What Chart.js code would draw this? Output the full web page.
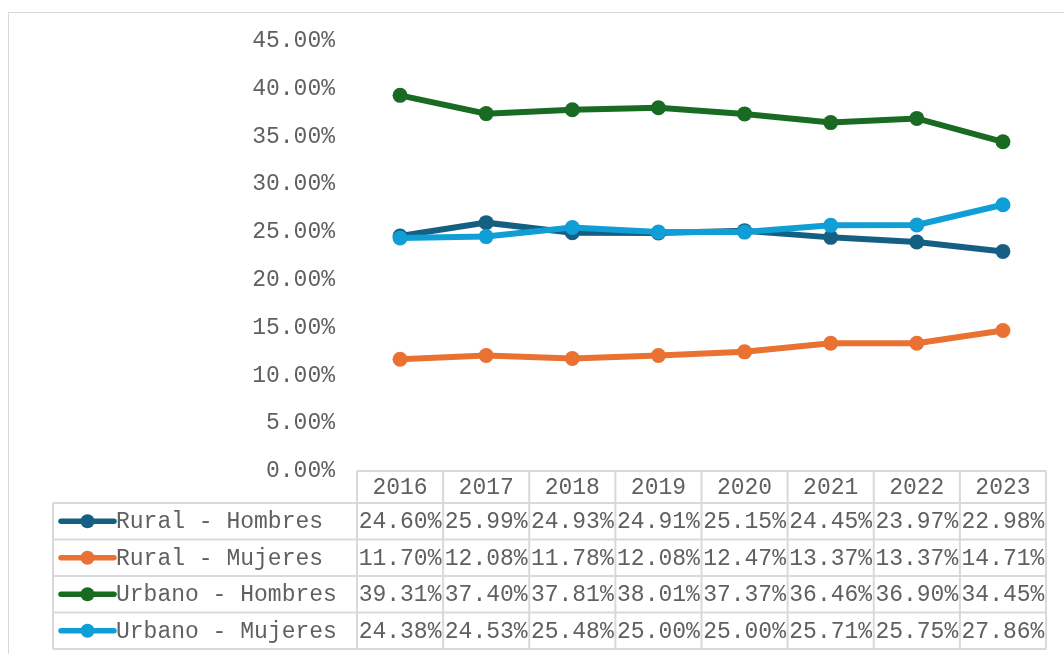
<!DOCTYPE html>
<html>
<head>
<meta charset="utf-8">
<script src="https://cdn.jsdelivr.net/npm/chart.js@4/dist/chart.umd.min.js"></script>
<style>
  html, body { margin: 0; padding: 0; background: #fff; }
  #wrap { width: 1064px; height: 654px; position: relative; }
</style>
</head>
<body>
<div id="wrap"><canvas id="chart" width="1064" height="654"></canvas></div>
<script>
// Datos (porcentajes)
const years = ['2016', '2017', '2018', '2019', '2020', '2021', '2022', '2023'];
const seriesNames = ['Rural - Hombres', 'Rural - Mujeres', 'Urbano - Hombres', 'Urbano - Mujeres'];
const ruralHombres = [24.60, 25.99, 24.93, 24.91, 25.15, 24.45, 23.97, 22.98];
const ruralMujeres = [11.70, 12.08, 11.78, 12.08, 12.47, 13.37, 13.37, 14.71];
const urbanoHombres = [39.31, 37.40, 37.81, 38.01, 37.37, 36.46, 36.90, 34.45];
const urbanoMujeres = [24.38, 24.53, 25.48, 25.00, 25.00, 25.71, 25.75, 27.86];
const yTicks = [0, 5, 10, 15, 20, 25, 30, 35, 40, 45];

const colors = ['#156082', '#E97132', '#196B24', '#0F9ED5'];
const allSeries = [ruralHombres, ruralMujeres, urbanoHombres, urbanoMujeres];
const FAMILY = '"Liberation Mono", "Courier New", monospace';
const FONT = '23px ' + FAMILY;
const TEXT = '#606060';
const GRID = '#d9d9d9';

const fmt = (v) => v.toFixed(2) + '%';

// tabla de datos bajo el gráfico (estilo Excel)
const dataTable = {
  id: 'dataTable',
  afterDraw(chart) {
    const ctx = chart.ctx;
    const area = chart.chartArea;
    const x = chart.scales.x;
    const step = area.width / years.length;
    const tableLeft = 53;
    const headTop = area.bottom;
    const headH = 32;
    const rowH = 36.5;
    const rowsTop = headTop + headH;
    const bottom = rowsTop + rowH * allSeries.length;

    ctx.save();
    // marco exterior
    ctx.strokeStyle = GRID;
    ctx.lineWidth = 1;
    ctx.strokeRect(8.5, 12.5, 1200, 800);

    ctx.lineWidth = 2;
    ctx.beginPath();
    ctx.moveTo(area.left, headTop);
    ctx.lineTo(area.right, headTop);
    for (let r = 0; r <= allSeries.length; r++) {
      const y = rowsTop + r * rowH;
      ctx.moveTo(tableLeft, y);
      ctx.lineTo(area.right, y);
    }
    ctx.moveTo(tableLeft, rowsTop);
    ctx.lineTo(tableLeft, bottom);
    for (let c = 0; c <= years.length; c++) {
      const cx = area.left + c * step;
      ctx.moveTo(cx, headTop);
      ctx.lineTo(cx, bottom);
    }
    ctx.stroke();

    ctx.font = FONT;
    ctx.fillStyle = TEXT;
    ctx.textBaseline = 'middle';
    ctx.textAlign = 'center';
    years.forEach((yr, i) => {
      ctx.fillText(yr, x.getPixelForValue(i), headTop + headH / 2 + 1);
    });

    allSeries.forEach((vals, r) => {
      const cy = rowsTop + r * rowH + rowH / 2 + 1;
      // clave de leyenda
      ctx.strokeStyle = colors[r];
      ctx.lineWidth = 5.5;
      ctx.lineCap = 'round';
      ctx.beginPath();
      ctx.moveTo(61, cy - 1);
      ctx.lineTo(114, cy - 1);
      ctx.stroke();
      ctx.fillStyle = colors[r];
      ctx.beginPath();
      ctx.arc(87.5, cy - 1, 7, 0, Math.PI * 2);
      ctx.fill();

      ctx.fillStyle = TEXT;
      ctx.textAlign = 'left';
      ctx.fillText(seriesNames[r], 116, cy);
      ctx.textAlign = 'center';
      vals.forEach((v, i) => {
        ctx.fillText(fmt(v), x.getPixelForValue(i), cy);
      });
    });
    ctx.restore();
  }
};

new Chart(document.getElementById('chart'), {
  type: 'line',
  data: {
    labels: years,
    datasets: allSeries.map((vals, i) => ({
      label: seriesNames[i],
      data: vals,
      borderColor: colors[i],
      backgroundColor: colors[i],
      borderWidth: 6,
      pointRadius: 7.5,
      pointBorderWidth: 0,
      pointHoverRadius: 7.5,
      tension: 0,
      order: allSeries.length - i,
    })),
  },
  options: {
    responsive: false,
    animation: false,
    layout: { padding: { left: 0, top: 41, right: 18, bottom: 183 } },
    plugins: { legend: { display: false }, tooltip: { enabled: false } },
    scales: {
      x: {
        display: false,
        offset: true,
      },
      y: {
        min: 0,
        max: 45,
        afterFit: (s) => { s.width = 357; },
        afterBuildTicks: (s) => { s.ticks = yTicks.map((v) => ({ value: v })); },
        grid: { display: false, drawTicks: false },
        border: { display: false },
        ticks: {
          padding: 22,
          color: TEXT,
          font: { family: FAMILY, size: 23 },
          callback: (v) => fmt(v),
        },
      },
    },
  },
  plugins: [dataTable],
});
</script>
</body>
</html>
